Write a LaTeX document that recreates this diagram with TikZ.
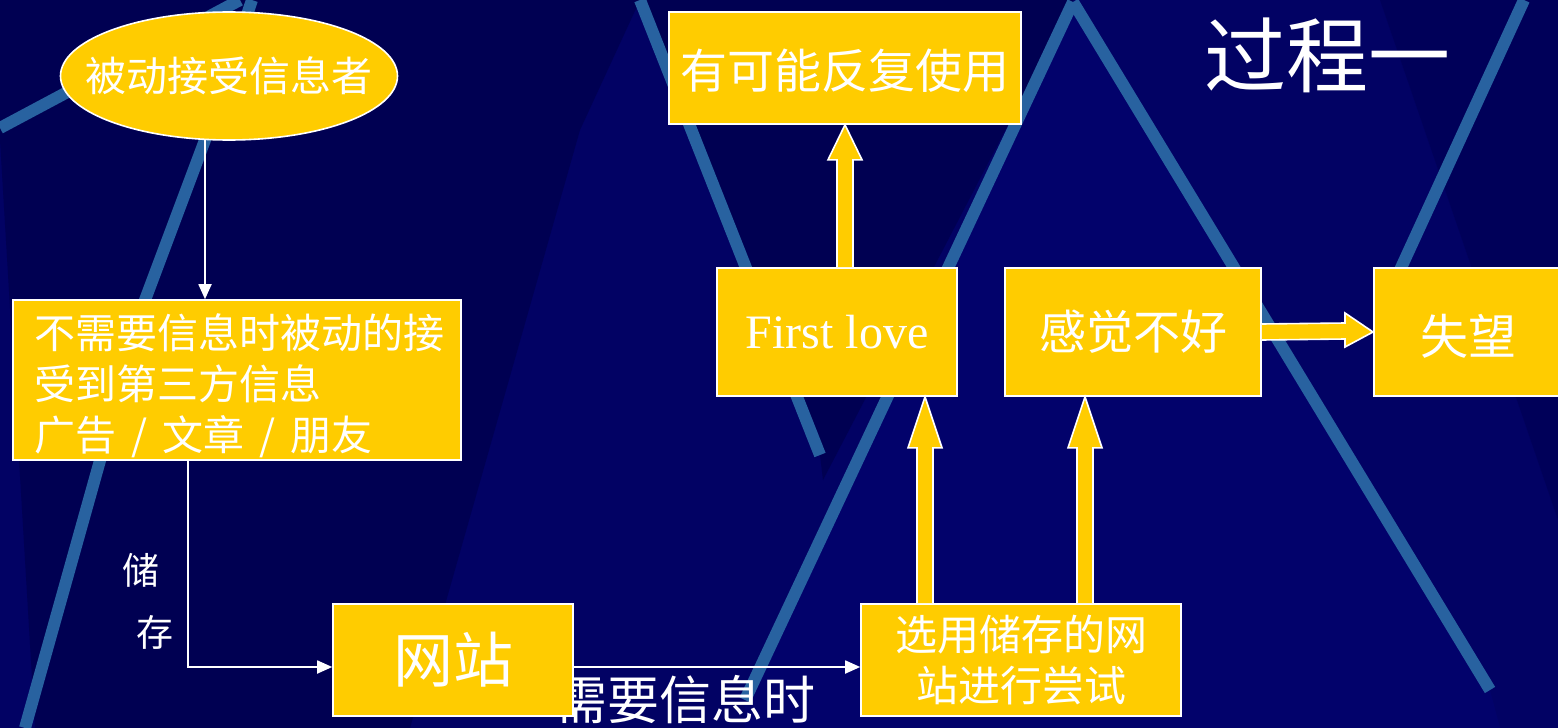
\documentclass[tikz,border=0pt]{standalone}
\usepackage{fontspec}
\setmainfont{Liberation Serif}
\newfontfamily\cjk{Noto Sans CJK SC}
\usetikzlibrary{shapes.geometric,calc,arrows.meta}
\definecolor{bg}{RGB}{2,2,100}
\definecolor{bgdark}{RGB}{0,0,82}
\definecolor{bglight}{RGB}{2,2,107}
\definecolor{stripe}{RGB}{40,98,160}
\definecolor{gold}{RGB}{255,204,0}
\newcommand\myUpArrow[3]{%
  \draw[blk] ($(#1)+(-8,0)$) -- ($(#1 |- #2)+(-8,#3)$) -- ($(#1 |- #2)+(-17,#3)$) -- (#1 |- #2)
    -- ($(#1 |- #2)+(17,#3)$) -- ($(#1 |- #2)+(8,#3)$) -- ($(#1)+(8,0)$);}
\begin{document}
\begin{tikzpicture}[x=1pt,y=-1pt,
  box/.style={draw=white, line width=1.6pt, fill=gold, text=white, inner sep=0pt},
  blk/.style={draw=white, line width=1.6pt, fill=gold, line join=miter},
  conn/.style={draw=white, line width=1.8pt, -{Triangle[length=15pt,width=13pt]}},
  lbl/.style={text=white, inner sep=0pt},
  stripeline/.style={draw=stripe, line width=12pt}]
% background
\fill[bg] (0,0) rectangle (1558,728);
\useasboundingbox (0,0) rectangle (1558,728);
\fill[bgdark] (0,0) -- (640,0) -- (580,130) -- (410,728) -- (35,728) -- (0,140) -- cycle;
\fill[bgdark] (640,0) -- (1073,0) -- (823,480) -- (820,455) -- cycle;
\fill[bglight] (1073,2) -- (745,700) -- (745,728) -- (1500,728) -- (1490,690) -- cycle;
\fill[bgdark, opacity=0.6] (1380,0) -- (1558,0) -- (1558,520) -- cycle;
\draw[stripeline] (0,128) -- (240,0);
\draw[stripeline] (252,0) -- (205,140) -- (145,300) -- (25,728);
\draw[stripeline] (640,0) -- (820,455);
\draw[stripeline] (1073,2) -- (745,700);
\draw[stripeline] (1073,2) -- (1490,690);
\draw[stripeline] (1524,0) -- (1400,270);
% nodes
\node[lbl, font=\cjk\fontsize{52}{52}\selectfont] (need) at (685,700) {需要信息时};
\node[box, ellipse, minimum width=337pt, minimum height=128pt] (rcv) at (229,76) {};
\node[lbl, font=\cjk\fontsize{41}{41}\selectfont] (rcvt) at (rcv.center) {被动接受信息者};
\node[box, minimum width=448pt, minimum height=160pt] (pb) at (237,380) {};
\node[lbl, anchor=west, align=left, font=\cjk\fontsize{41}{51}\selectfont] (pbt) at ($(pb.west)+(22,6)$) {不需要信息时被动的接\\受到第三方信息\\广告\hspace{15pt}/\hspace{15pt}文章\hspace{15pt}/\hspace{15pt}朋友};
\node[box, minimum width=240pt, minimum height=112pt, font=\cjk\fontsize{60}{60}\selectfont] (ws) at (453,660) {网站};
\node[box, minimum width=320pt, minimum height=112pt, align=center, font=\cjk\fontsize{42}{51}\selectfont] (try) at (1021,660) {选用储存的网\\站进行尝试};
\node[box, minimum width=240pt, minimum height=128pt, font=\fontsize{48}{48}\selectfont] (fl) at (837,332) {First love};
\node[box, minimum width=352pt, minimum height=112pt] (top) at (845,68) {};
\node[lbl, font=\cjk\fontsize{47}{47}\selectfont] (topt) at ($(top.center)+(0,3)$) {有可能反复使用};
\node[box, minimum width=256pt, minimum height=128pt, font=\cjk\fontsize{47}{47}\selectfont] (gb) at (1133,332) {感觉不好};
\node[box, minimum width=256pt, minimum height=128pt, anchor=west] (sw) at (1373,332) {};
\node[lbl, font=\cjk\fontsize{48}{48}\selectfont] (swt) at (1468,336) {失望};
\node[lbl, font=\cjk\fontsize{82}{82}\selectfont] (title) at (1327,55) {过程一};
\node[lbl, font=\cjk\fontsize{37}{37}\selectfont] (s1) at (141,570) {储};
\node[lbl, font=\cjk\fontsize{37}{37}\selectfont] (s2) at (155,632) {存};
% thin connectors
\coordinate (c1) at ($(rcv.south)+(-24,-1)$);
\draw[conn] (c1) -- (c1 |- pb.north);
\coordinate (c2) at ($(pb.south west)+(176,0)$);
\coordinate (c3) at ($(ws.west)+(0,7)$);
\draw[conn] (c2) |- (c3);
\coordinate (c4) at ($(ws.east)+(0,7)$);
\draw[conn] (c4) -- (c4 -| try.west);
% block arrows
\coordinate (a1) at ($(fl.north)+(8,0)$);
\myUpArrow{a1}{top.south}{35}
\coordinate (a2) at ($(try.north)+(-96,0)$);
\myUpArrow{a2}{fl.south}{51}
\coordinate (a3) at ($(try.north)+(64,0)$);
\myUpArrow{a3}{gb.south}{51}
\draw[blk] ($(gb.east)+(0,-8)$) -- ($(sw.west)+(-28,-9)$) -- ($(sw.west)+(-28,-19)$) -- (sw.west)
  -- ($(sw.west)+(-28,15)$) -- ($(sw.west)+(-28,7)$) -- ($(gb.east)+(0,8)$);
\end{tikzpicture}
\end{document}
